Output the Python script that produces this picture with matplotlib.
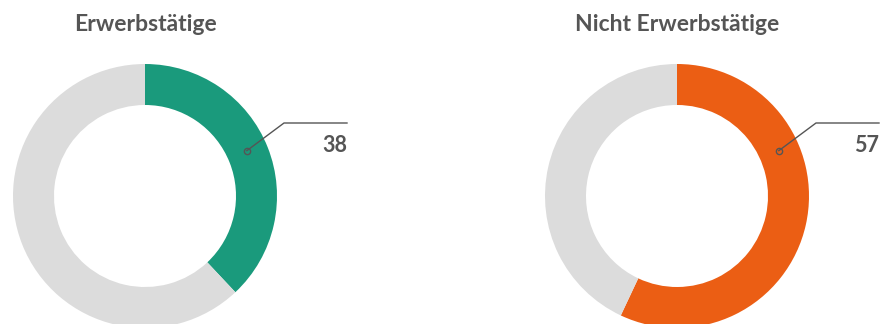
import numpy as np
import matplotlib.pyplot as plt

titles = ["Erwerbstätige", "Nicht Erwerbstätige"]
values = [38, 57]
colors = ["#1a9a7c", "#eb5e14"]
rest_color = "#dcdcdc"
text_color = "#555555"

plt.rcParams["font.family"] = ["Lato", "DejaVu Sans"]

W, H = 880, 324
fig = plt.figure(figsize=(W / 100, H / 100), dpi=100)
ax = fig.add_axes([0, 0, 1, 1])

centers_x = [145, 677]
cy = H - 196
radius = 132
ring = 41
label_angle = np.deg2rad(24)

for cx, title, val, col in zip(centers_x, titles, values, colors):
    ax.pie([val, 100 - val], colors=[col, rest_color], center=(cx, cy),
           radius=radius, startangle=90, counterclock=False,
           wedgeprops=dict(width=ring, linewidth=0))
    ax.text(cx, H - 31, title, ha="center", va="baseline", fontsize=16.5,
            fontweight="bold", color=text_color)

    # leader line with small hollow marker
    r_mid = radius - ring / 2
    px = cx + r_mid * np.cos(label_angle)
    py = cy + r_mid * np.sin(label_angle)
    ex, ey = cx + 139, cy + 73
    fx = cx + 202
    ax.plot([px, ex, fx], [py, ey, ey], color=text_color, lw=1, zorder=5)
    ax.plot([px], [py], marker="o", ms=4.5, mfc="none", mec=text_color,
            mew=1, zorder=6)
    ax.text(fx, H - 152, str(val), ha="right", va="baseline", fontsize=15.5,
            fontweight="bold", color=text_color)

ax.set_xlim(0, W)
ax.set_ylim(0, H)
ax.set_aspect("equal")
ax.axis("off")

fig.savefig("out.png", dpi=100)
